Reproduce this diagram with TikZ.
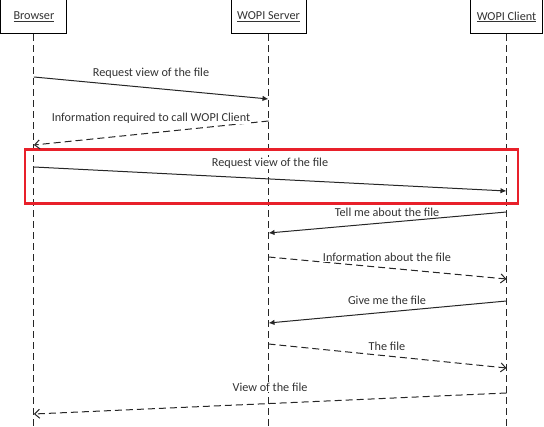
\documentclass[tikz,border=0pt]{standalone}
\usepackage{fontspec}
\setmainfont{Carlito}
\usetikzlibrary{arrows.meta}
\definecolor{linegray}{HTML}{262626}
\definecolor{txt}{HTML}{333333}
\definecolor{focusred}{HTML}{E8202A}
\begin{document}
\begin{tikzpicture}[x=1pt,y=-1pt,
  actor/.style={draw=black, line width=1pt, fill=white, minimum height=34pt, inner sep=0pt, text=txt, font=\fontsize{12.2}{14}\selectfont},
  lifeline/.style={draw=linegray, line width=1pt, dash pattern=on 7pt off 4pt},
  callmsg/.style={draw=linegray, line width=1pt, -{Latex[length=6pt,width=5.5pt]}},
  retmsg/.style={draw=linegray, line width=1pt, dash pattern=on 7pt off 4pt, -{Straight Barb[length=5pt,width=9pt]}},
  lbl/.style={fill=white, inner sep=1pt, text=txt, font=\fontsize{12.2}{14}\selectfont},
  focus/.style={draw=focusred, line width=2.4pt, inner sep=0pt}]
\useasboundingbox (0,0) rectangle (544,427);

% actors
\node[actor, minimum width=66pt] (br) at (33.9,17) {\underline{Browser}};
\node[actor, minimum width=75pt] (sv) at (268.5,17) {\underline{WOPI Server}};
\node[actor, minimum width=72pt] (cl) at (506.5,17) {\underline{WOPI Client}};

% lifeline ends
\coordinate (brEnd) at (33.9,427);
\coordinate (svEnd) at (268.5,427);
\coordinate (clEnd) at (506.5,427);
\draw[lifeline] (br.south) -- (brEnd);
\draw[lifeline] (sv.south) -- (svEnd);
\draw[lifeline] (cl.south) -- (clEnd);

% highlight box
\node[focus, minimum width=493pt, minimum height=54pt] (hl) at (271.5,176.5) {};

% message end points
\coordinate (m1s) at (33.9,77);   \coordinate (m1e) at (268.5,99);
\coordinate (m2s) at (268.5,121); \coordinate (m2e) at (33.9,145);
\coordinate (m3s) at (33.9,167);  \coordinate (m3e) at (506.5,191);
\coordinate (m4s) at (506.5,212); \coordinate (m4e) at (268.5,233);
\coordinate (m5s) at (268.5,257); \coordinate (m5e) at (506.5,279);
\coordinate (m6s) at (506.5,301); \coordinate (m6e) at (268.5,323);
\coordinate (m7s) at (268.5,344); \coordinate (m7e) at (506.5,368);
\coordinate (m8s) at (506.5,393); \coordinate (m8e) at (33.9,414);

\draw[callmsg] (m1s) -- (m1e);
\draw[retmsg]  (m2s) -- (m2e);
\draw[callmsg] (m3s) -- (m3e);
\draw[callmsg] (m4s) -- (m4e);
\draw[retmsg]  (m5s) -- (m5e);
\draw[callmsg] (m6s) -- (m6e);
\draw[retmsg]  (m7s) -- (m7e);
\draw[retmsg]  (m8s) -- (m8e);

% labels
\node[lbl] (l1) at (151,73)  {Request view of the file};
\node[lbl] (l2) at (151,118) {Information required to call WOPI Client};
\node[lbl] (l3) at (270,163) {Request view of the file};
\node[lbl] (l4) at (387,212) {Tell me about the file};
\node[lbl] (l5) at (387,257) {Information about the file};
\node[lbl] (l6) at (387,300) {Give me the file};
\node[lbl] (l7) at (387,346) {The file};
\node[lbl] (l8) at (270,387) {View of the file};
\end{tikzpicture}
\end{document}
